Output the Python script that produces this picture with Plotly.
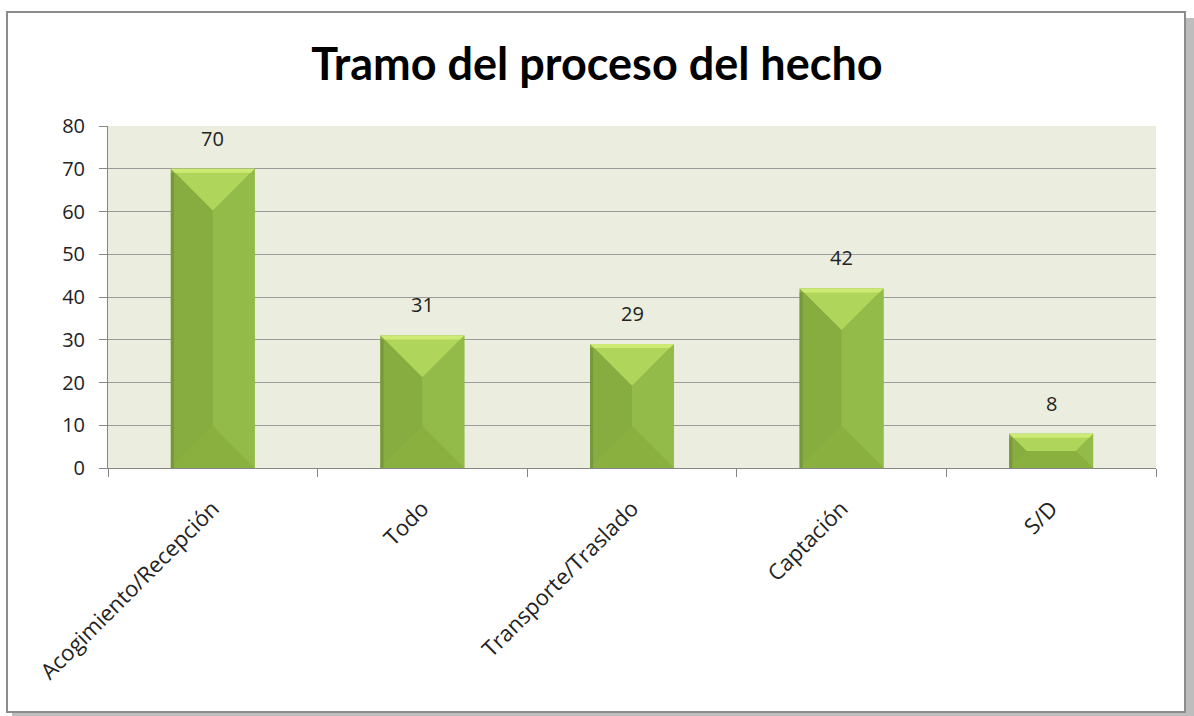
import plotly.graph_objects as go

categories = ["Acogimiento/Recepción", "Todo", "Transporte/Traslado", "Captación", "S/D"]
values = [70, 31, 29, 42, 8]
y_ticks = [0, 10, 20, 30, 40, 50, 60, 70, 80]

W, H = 1194, 716
ML, MR, MT, MB = 108, 38, 126, 248
PW, PH = W - ML - MR, H - MT - MB
YMAX = 80
BAR_W = 0.4

title_font = "Lato, Calibri, sans-serif"
font = "Open Sans, Calibri, sans-serif"

# pixel scale of each axis, used to keep the bevel at 45 degrees
x_px = PW / len(categories)
y_px = PH / YMAX

pos = list(range(len(categories)))

fig = go.Figure()
fig.add_trace(go.Bar(x=pos, y=values, width=BAR_W, marker=dict(color="#8DB443", line=dict(width=0)),
                     hoverinfo="x+y", showlegend=False))

# bevel faces: top, left, right, bottom
faces = {"top": "#B0D55B", "left": "#87AC3F", "right": "#93BB49", "bottom": "#8AB040"}
for i, v in zip(pos, values):
    half = BAR_W / 2
    d = min(half * x_px / y_px, v / 2)
    dx = d * y_px / x_px
    x0, x1 = i - half, i + half
    polys = {
        "top": ([x0, x1, x1 - dx, x0 + dx, x0], [v, v, v - d, v - d, v]),
        "left": ([x0, x0 + dx, x0 + dx, x0, x0], [v, v - d, d, 0, v]),
        "right": ([x1, x1 - dx, x1 - dx, x1, x1], [v, v - d, d, 0, v]),
        "bottom": ([x0, x1, x1 - dx, x0 + dx, x0], [0, 0, d, d, 0]),
    }
    for k, (xs, ys) in polys.items():
        fig.add_trace(go.Scatter(x=xs, y=ys, fill="toself", fillcolor=faces[k], mode="lines",
                                 line=dict(width=0), hoverinfo="skip", showlegend=False))
    # light strip along the top edge
    s = min(4 / y_px, d)
    sx = s * y_px / x_px
    fig.add_trace(go.Scatter(x=[x0, x1, x1 - sx, x0 + sx, x0], y=[v, v, v - s, v - s, v], fill="toself",
                             fillcolor="#CDEB74", mode="lines", line=dict(width=0),
                             hoverinfo="skip", showlegend=False))
    # darker strip along the left edge
    e = 3 / x_px
    fig.add_trace(go.Scatter(x=[x0, x0 + e, x0 + e, x0, x0], y=[v - s, v - s, 0, 0, v - s], fill="toself",
                             fillcolor="#76983A", mode="lines", line=dict(width=0),
                             hoverinfo="skip", showlegend=False))

for i, v in zip(pos, values):
    fig.add_annotation(x=i, y=v, text=str(v), showarrow=False, yanchor="bottom", yshift=15,
                       font=dict(family=font, size=20, color="#222222"))

def px_x(p):
    return (p - ML) / PW

def px_y(p):
    return (H - MB - p) / PH

shapes = [
    dict(type="rect", xref="paper", yref="paper", x0=px_x(1186), x1=px_x(1194), y0=px_y(716), y1=px_y(18),
         fillcolor="#BDBDBD", line=dict(width=0)),
    dict(type="rect", xref="paper", yref="paper", x0=px_x(12), x1=px_x(1194), y0=px_y(716), y1=px_y(713),
         fillcolor="#BDBDBD", line=dict(width=0)),
    dict(type="rect", xref="paper", yref="paper", x0=px_x(7), x1=px_x(1185), y0=px_y(712), y1=px_y(12),
         fillcolor="rgba(0,0,0,0)", line=dict(color="#8C8C8C", width=2)),
]

fig.update_layout(
    width=W, height=H,
    margin=dict(l=ML, r=MR, t=MT, b=MB),
    paper_bgcolor="white",
    plot_bgcolor="#EBEEDF",
    title=dict(text="<b>Tramo del proceso del hecho</b>", x=0.5, xanchor="center",
               y=1 - 64 / H, yanchor="middle", yref="container",
               font=dict(family=title_font, size=45, color="black")),
    shapes=shapes,
    font=dict(family=font, size=20, color="#222222"),
)

fig.update_xaxes(
    range=[-0.5, len(categories) - 0.5],
    tickvals=pos, ticktext=categories, tickangle=-45, ticks="",
    tickfont=dict(family=font, size=22, color="#222222"),
    ticklabelstandoff=18,
    showgrid=False, zeroline=False,
    showline=True, linecolor="#868686", linewidth=1,
    minor=dict(tickvals=[p - 0.5 for p in pos] + [len(categories) - 0.5], ticks="outside",
               ticklen=8, tickcolor="#868686", showgrid=False),
)
fig.update_yaxes(
    range=[0, YMAX], tickvals=y_ticks, ticks="outside", ticklen=8, tickcolor="#868686",
    tickfont=dict(family=font, size=20, color="#222222"),
    ticklabelstandoff=10,
    showgrid=True, gridcolor="#9A9A9A", gridwidth=1, zeroline=False,
    showline=True, linecolor="#868686", linewidth=1,
)

fig.write_html("out.html", config={"displayModeBar": False},
               post_script="document.body.style.margin='0';")
